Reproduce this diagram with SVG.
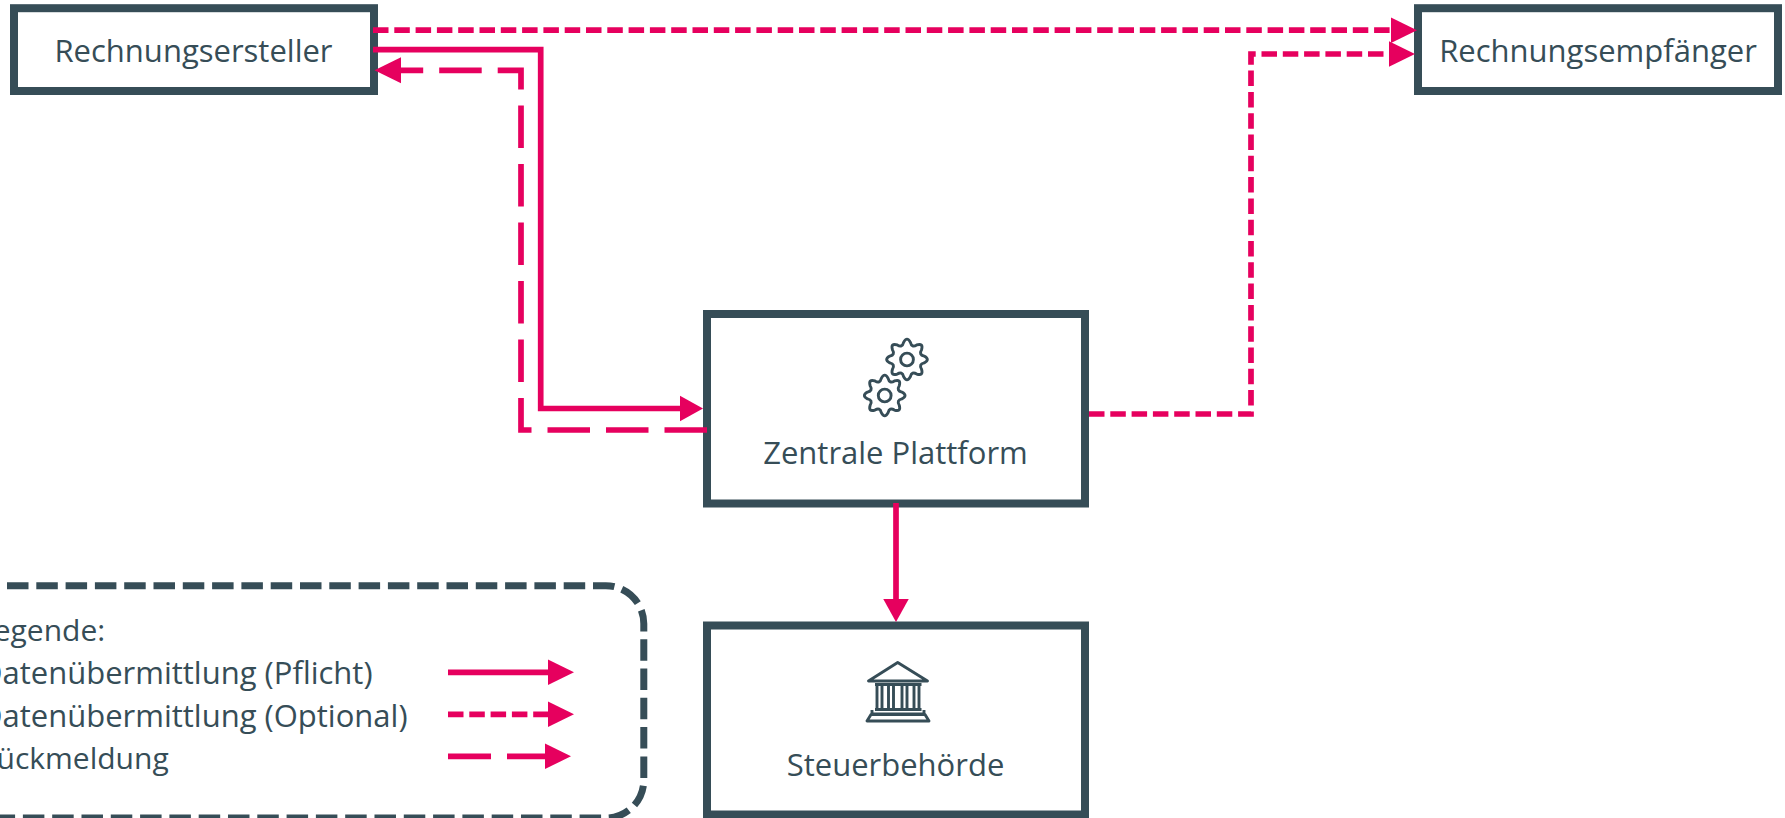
<svg xmlns="http://www.w3.org/2000/svg" width="1785" height="818" viewBox="0 0 1785 818">
<style>
.box{fill:#fff;stroke:#364d57;stroke-width:8}
.t{font-family:"Open Sans","Noto Sans",sans-serif;font-size:31px;fill:#364d57}
.s{font-size:30px}
.m{text-anchor:middle}
.c{fill:none;stroke:#e6005e;stroke-width:5.7}
.opt{stroke-dasharray:15.5 5.8}
.ret{stroke-dasharray:42.5 16}
.icon{fill:none;stroke:#364d57;stroke-width:2.9;stroke-linejoin:round}
</style>
<defs>
<marker id="a" markerUnits="userSpaceOnUse" markerWidth="27" markerHeight="27" refX="0.5" refY="13.5" orient="auto"><path d="M0,0.5L26.5,13.5L0,26.5z" fill="#e6005e"/></marker>
<marker id="b" markerUnits="userSpaceOnUse" markerWidth="24" markerHeight="27" refX="0.5" refY="13.5" orient="auto"><path d="M0,0.5L23.5,13.5L0,26.5z" fill="#e6005e"/></marker>
<g id="gear"><path d="M-3.41,-17.16Q0,-23.5 3.41,-17.16Q4.78,-11.55 9.72,-14.55Q16.62,-16.62 14.55,-9.72Q11.55,-4.78 17.16,-3.41Q23.5,0 17.16,3.41Q11.55,4.78 14.55,9.72Q16.62,16.62 9.72,14.55Q4.78,11.55 3.41,17.16Q0,23.5 -3.41,17.16Q-4.78,11.55 -9.72,14.55Q-16.62,16.62 -14.55,9.72Q-11.55,4.78 -17.16,3.41Q-23.5,0 -17.16,-3.41Q-11.55,-4.78 -14.55,-9.72Q-16.62,-16.62 -9.72,-14.55Q-4.78,-11.55 -3.41,-17.16z"/><circle r="6.4"/></g>
</defs>
<rect width="1785" height="818" fill="#fff"/>
<g id="legende">
<path d="M-22.3,585.7H605.5A38,38 0 0 1 643.8,623.7V780A38,38 0 0 1 605.5,818H-22.3" fill="none" stroke="#364d57" stroke-width="7" stroke-dasharray="21.5 7.8"/>
<text class="t s" x="-22" y="641">Legende:</text>
<text class="t" x="-20" y="684">Datenübermittlung (Pflicht)</text>
<text class="t" x="-20" y="727">Datenübermittlung (Optional)</text>
<text class="t s" x="-22" y="769">Rückmeldung</text>
<path class="c" d="M448,672.3H548" marker-end="url(#a)"/>
<path class="c opt" d="M448,714.3H548" marker-end="url(#a)"/>
<path class="c" stroke-dasharray="43 16" d="M448,756.3H545" marker-end="url(#a)"/>
</g>
<g id="rechnungsersteller"><rect class="box" x="14" y="8.2" width="360" height="82.8"/><text class="t m" x="193.5" y="62">Rechnungsersteller</text></g>
<g id="rechnungsempfaenger"><rect class="box" x="1418" y="8.2" width="360" height="82.8"/><text class="t m" x="1598" y="62">Rechnungsempfänger</text></g>
<g id="zentrale-plattform"><rect class="box" x="707" y="314" width="378" height="189.5"/>
<use href="#gear" class="icon" x="907" y="359.5"/>
<use href="#gear" class="icon" x="884.7" y="395.5"/>
<text class="t m" x="895.5" y="463.5">Zentrale Plattform</text></g>
<g id="steuerbehoerde"><rect class="box" x="707" y="625.5" width="378" height="189"/>
<path class="icon" d="M868.5,681L897.7,662.5L927.5,681zM875,684.5H921.5M875,709.5H921.5M877,685V709M882,685V709M888.5,685V709M893.5,685V709M902,685V709M907,685V709M914,685V709M919,685V709M872,710V714H924V710M867,721L871,714.5H925L929,721z"/>
<text class="t m" x="895.5" y="776">Steuerbehörde</text></g>
<g id="connectors">
<path class="c opt" d="M373,30.2H1391" marker-end="url(#a)"/>
<path class="c" d="M373,49.7H540.7V408.5H680" marker-end="url(#b)"/>
<path class="c ret" d="M707,430H521V70.3H400.5" marker-end="url(#a)"/>
<path class="c opt" d="M1089,414H1251V54H1389" marker-end="url(#a)"/>
<path class="c" d="M896,503V599" marker-end="url(#b)"/>
</g>
</svg>
